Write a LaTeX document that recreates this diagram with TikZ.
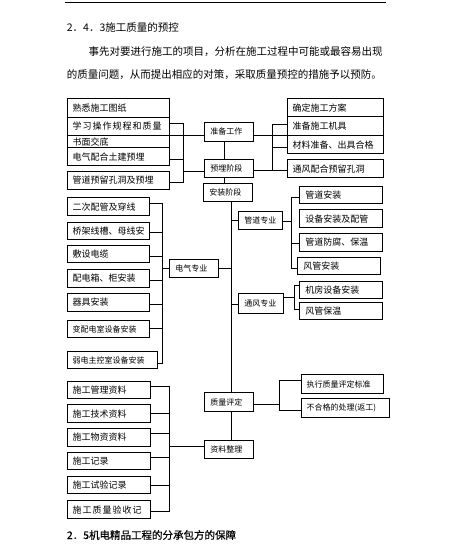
\documentclass[tikz,border=0pt]{standalone}
\usepackage{fontspec}
\setmainfont{Noto Sans CJK SC}
\newfontfamily\hfont[FakeBold=0.5]{Noto Sans CJK SC}
\newcommand\mkbox[7][box]{%
  \pgfmathsetmacro\bw{#5-#3-11}\pgfmathsetmacro\bh{#6-#4}%
  \node[#1,text width=\bw pt,minimum height=\bh pt] (#2) at (#3,#4) {#7};}
\begin{document}
\begin{tikzpicture}[x=1pt,y=-1pt,
  box/.style={draw,line width=0.9pt,inner xsep=5.5pt,inner ysep=0pt,anchor=north west,align=left,font=\fontsize{9}{10}\selectfont},
  sbox/.style={box,font=\fontsize{8}{9}\selectfont},
  conn/.style={line width=0.9pt},
  txt/.style={anchor=west,inner sep=0pt,font=\fontsize{10.5}{12}\selectfont}]
\useasboundingbox (0,0) rectangle (452,557);
% top rule and texts
\coordinate (r1) at (65,2.5);
\coordinate (r2) at (386,2.5);
\draw[line width=1.2pt] (r1) -- (r2);
\node[txt] (h1) at (66.7,27.7) {2．4．3施工质量的预控};
\node[txt] (p1) at (88.3,51.7) {事先对要进行施工的项目，分析在施工过程中可能或最容易出现};
\node[txt] (p2) at (66.7,75) {的质量问题，从而提出相应的对策，采取质量预控的措施予以预防。};
\node[txt,font=\hfont\fontsize{10.5}{12}\selectfont] (h2) at (66.7,535) {2．5机电精品工程的分承包方的保障};
% left top boxes
\mkbox{A1}{66.7}{98.3}{169.3}{116.7}{熟悉施工图纸}
\mkbox{A2}{66.7}{116.7}{169.3}{135}{学\hspace{1pt}习\hspace{1pt}操\hspace{1pt}作\hspace{1pt}规\hspace{1pt}程\hspace{1pt}和\hspace{1pt}质\hspace{1pt}量}
\mkbox{A3}{66.7}{135}{169.3}{147.3}{书面交底}
\mkbox{A4}{66.7}{147.3}{169.3}{165.3}{电气配合土建预埋}
\mkbox{A5}{66.7}{171}{169.3}{189}{管道预留孔洞及预埋}
% middle
\mkbox[sbox]{M1}{204.3}{122}{252.7}{140.7}{准备工作}
\mkbox[sbox]{M2}{204.3}{159.3}{252.7}{177.3}{预埋阶段}
\mkbox[sbox]{M3}{203.3}{183.3}{251.7}{201}{安装阶段}
\mkbox[sbox]{M4}{204.3}{392.3}{252.7}{410.7}{质量评定}
\mkbox[sbox]{M5}{204.3}{440.3}{252.7}{458.3}{资料整理}
% right top
\mkbox{R1}{286.7}{98.3}{382.7}{116}{确定施工方案}
\mkbox{R2}{286.7}{116}{382.7}{135}{准备施工机具}
\mkbox{R3}{286.7}{135}{382.7}{153.3}{材料准备、出具合格}
\mkbox{R4}{286.7}{159.3}{382.7}{177.3}{通风配合预留孔洞}
% specialties
\mkbox[sbox]{S1}{238.3}{211}{282.3}{229}{管道专业}
\mkbox[sbox]{S2}{169.3}{259.3}{217.7}{277.3}{电气专业}
\mkbox[sbox]{S3}{238.3}{292.7}{282.7}{312.7}{通风专业}
% pipe tasks
\mkbox{P1}{299.3}{185.7}{381.7}{203.3}{管道安装}
\mkbox{P2}{299.3}{209.3}{381.7}{227.3}{设备安装及配管}
\mkbox{P3}{299.3}{233.3}{381.7}{250.7}{管道防腐、保温}
\mkbox{P4}{297.3}{256.7}{380}{274}{风管安装}
% vent tasks
\mkbox{V1}{299.3}{280.7}{381.7}{298.3}{机房设备安装}
\mkbox{V2}{299.3}{301.7}{381.7}{319.3}{风管保温}
% electric tasks
\mkbox{E1}{66.7}{197.3}{149.3}{215}{二次配管及穿线}
\mkbox{E2}{66.7}{221.7}{149.3}{239}{桥架线槽、母线安}
\mkbox{E3}{66.7}{245}{149.3}{262.3}{敷设电缆}
\mkbox{E4}{66.7}{269}{149.3}{286.7}{配电箱、柜安装}
\mkbox{E5}{66.7}{292.7}{149.3}{310.7}{器具安装}
\mkbox[sbox]{E6}{66.7}{320}{149.3}{337.3}{变配电室设备安装}
\mkbox[sbox]{E7}{66.7}{350.7}{156.7}{368.3}{弱电主控室设备安装}
% quality
\mkbox[sbox]{Q1}{300.7}{374.3}{382.7}{392.7}{执行质量评定标准}
\mkbox[sbox]{Q2}{300.7}{398.3}{389.3}{416.7}{不合格的处理(返工)}
% docs
\mkbox{D1}{66.7}{381}{150}{398.3}{施工管理资料}
\mkbox{D2}{66.7}{404.3}{150}{422.3}{施工技术资料}
\mkbox{D3}{66.7}{427.7}{150}{445.7}{施工物资资料}
\mkbox{D4}{66.7}{451.7}{150}{469.3}{施工记录}
\mkbox{D5}{66.7}{475.7}{150}{493.3}{施工试验记录}
\mkbox{D6}{66.7}{500}{150}{518.3}{施\hspace{1pt}工\hspace{1pt}质\hspace{1pt}量\hspace{1pt}验\hspace{1pt}收\hspace{1pt}记}
% ---- connectors ----
% left top bracket
\coordinate (lt1) at (183.3,123.7);
\coordinate (lt2) at (183.3,182);
\draw[conn] (A2.east |- lt1) -- (lt1) -- (lt2) -- (A5.east |- lt2);
\draw[conn] (A2.south east) -- (M1.west |- A2.south east);
\draw[conn] (A4.east |- 0,159.3) -- (lt1 |- 0,159.3);
\draw[conn] (lt1 |- 0,171) -- (M2.west |- 0,171);
\draw[conn] (224.3,0 |- M1.south) -- (224.3,0 |- M2.north);
\draw[conn] (224.3,0 |- M2.south) -- (224.3,0 |- M3.north);
% right top bracket
\coordinate (rt1) at (272.3,124.3);
\coordinate (rt2) at (272.3,170.7);
\draw[conn] (M1.east |- R2.south west) -- (R2.south west);
\draw[conn] (R2.west |- rt1) -- (rt1) -- (rt2);
\draw[conn] (M2.east |- rt2) -- (R4.west |- rt2);
\draw[conn] (rt1 |- 0,147.3) -- (R3.west |- 0,147.3);
% trunk
\coordinate (tk) at (231,0);
\draw[conn] (tk |- M3.south) -- (tk |- M4.north);
\draw[conn] (tk |- 0,220) -- (S1.west |- 0,220);
\draw[conn] (tk |- 0,268.3) -- (S2.east |- 0,268.3);
\draw[conn] (tk |- 0,304) -- (S3.west |- 0,304);
% pipe bracket
\coordinate (pv1) at (291.7,197.3);
\coordinate (pv2) at (291.7,268.3);
\draw[conn] (P1.west |- pv1) -- (pv1) -- (pv2) -- (P4.west |- pv2);
\draw[conn] (S1.east |- 0,221.7) -- (pv1 |- 0,221.7);
\draw[conn] (pv1 |- 0,243.3) -- (P3.west |- 0,243.3);
% vent bracket
\coordinate (vv1) at (294,285.7);
\coordinate (vv2) at (294,309.3);
\draw[conn] (V1.west |- vv1) -- (vv1) -- (vv2) -- (V2.west |- vv2);
\draw[conn] (S3.east |- 0,297.3) -- (vv1 |- 0,297.3);
% electric bracket
\coordinate (ev1) at (162.7,203.3);
\coordinate (ev2) at (162.7,363.3);
\draw[conn] (E1.east |- ev1) -- (ev1) -- (ev2) -- (E7.east |- ev2);
\foreach \n/\yy in {E2/232.7,E3/256.7,E4/280,E5/304,E6/328.3}
  \draw[conn] (\n.east |- 0,\yy) -- (ev1 |- 0,\yy);
\draw[conn] (S2.west |- 0,268.3) -- (ev1 |- 0,268.3);
% quality bracket
\coordinate (qv1) at (279.3,380.7);
\coordinate (qv2) at (279.3,410);
\draw[conn] (Q1.west |- qv1) -- (qv1) -- (qv2) -- (Q2.west |- qv2);
\draw[conn] (M4.east |- 0,404.3) -- (qv1 |- 0,404.3);
\draw[conn] (231.7,0 |- M4.south) -- (231.7,0 |- M5.north);
% docs bracket
\coordinate (dv1) at (169.3,386.7);
\coordinate (dv2) at (169.3,511.7);
\draw[conn] (D1.east |- dv1) -- (dv1) -- (dv2) -- (D6.east |- dv2);
\foreach \n/\yy in {D2/413.3,D3/433.3,D4/457.3,D5/485}
  \draw[conn] (\n.east |- 0,\yy) -- (dv1 |- 0,\yy);
\draw[conn] (M5.west |- 0,446) -- (dv1 |- 0,446);
\end{tikzpicture}
\end{document}
